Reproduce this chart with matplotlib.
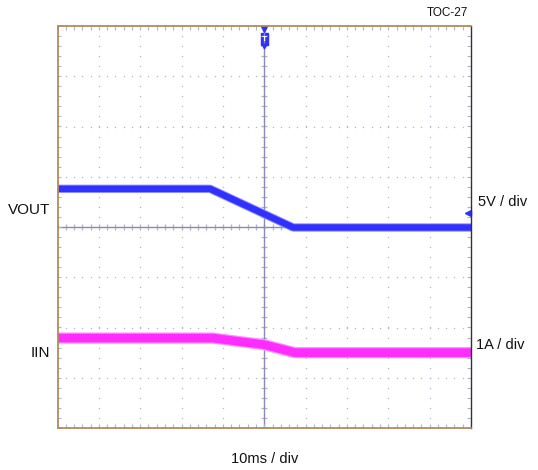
import matplotlib

matplotlib.use("Agg")
import matplotlib.pyplot as plt
import numpy as np

# Scope capture, 10 ms/div, 10 x 8 divisions. Vertical values in divisions
# from the screen centre line.
vout_t = [0.0, 36.9, 57.0, 100.0]          # ms
vout_div = [0.76, 0.76, -0.01, -0.01]      # div (5 V / div)
iin_t = [0.0, 37.6, 44.1, 49.9, 57.4, 100.0]
iin_div = [-2.21, -2.21, -2.28, -2.34, -2.50, -2.50]  # div (1 A / div)

W, H, DPI = 538, 470, 100
BLUE, BLUE_LT = "#3030ff", "#8c8cff"
MAG, MAG_LT = "#ff2cff", "#ff8cff"
GRID = "#b4b4cc"
AXIS = "#8a8ab4"
FRAME = "#b08a5e"

plt.rcParams["font.family"] = ["Liberation Sans", "DejaVu Sans"]

fig = plt.figure(figsize=(W / DPI, H / DPI), dpi=DPI)
ax = fig.add_axes([57.5 / W, 1 - 428 / H, 413.5 / W, 402 / H])
ax.set_xlim(0, 100)
ax.set_ylim(-4, 4)
ax.set_xticks([])
ax.set_yticks([])
for side in ("top", "left", "bottom"):
    ax.spines[side].set_color(FRAME)
    ax.spines[side].set_linewidth(1.3)
ax.spines["right"].set_color("#333333")
ax.spines["right"].set_linewidth(1.0)

# dotted graticule: dots every 0.2 div along each division line
xs_minor = np.arange(0, 100.01, 2)
ys_minor = np.arange(-4, 4.01, 0.2)
for x in range(10, 100, 10):
    if x == 50:
        continue
    ax.plot([x] * len(ys_minor), ys_minor, ls="none", marker="s", ms=0.9,
            color=GRID, mew=0)
for y in range(-3, 4):
    if y == 0:
        continue
    ax.plot(xs_minor, [y] * len(xs_minor), ls="none", marker="s", ms=0.9,
            color=GRID, mew=0)

# centre cross with minor ticks
ax.plot([50] * len(ys_minor), ys_minor, ls="none", marker="_", ms=4,
        color=GRID, mew=0.9)
ax.plot(xs_minor, [0] * len(xs_minor), ls="none", marker="|", ms=4,
        color=GRID, mew=0.9)
ax.axvline(50, color=AXIS, lw=1.0)
ax.axhline(0, color=AXIS, lw=1.0)
# border ticks
ax.plot(xs_minor, [3.97] * len(xs_minor), ls="none", marker="|", ms=2.5,
        color=GRID, mew=0.8)
ax.plot(xs_minor, [-3.97] * len(xs_minor), ls="none", marker="|", ms=2.5,
        color=GRID, mew=0.8)
ax.plot([0.4] * len(ys_minor), ys_minor, ls="none", marker="_", ms=2.5,
        color=GRID, mew=0.8)
ax.plot([99.6] * len(ys_minor), ys_minor, ls="none", marker="_", ms=2.5,
        color=GRID, mew=0.8)

# traces
ax.plot(vout_t, vout_div, color=BLUE_LT, lw=6.0, solid_capstyle="butt")
ax.plot(vout_t, vout_div, color=BLUE, lw=4.6, solid_capstyle="butt")
ax.plot(iin_t, iin_div, color=MAG_LT, lw=8.0, solid_capstyle="butt")
ax.plot(iin_t, iin_div, color=MAG, lw=6.2, solid_capstyle="butt")

# trigger marker at top and channel reference marker at right
ax.plot([50], [3.95], marker="v", ms=5, color=BLUE, clip_on=False)
ax.add_patch(plt.Rectangle((49.1, 3.62), 1.8, 0.24, color=BLUE, clip_on=False))
ax.plot([50], [3.60], marker="v", ms=3.5, color=BLUE, clip_on=False)
ax.text(50, 3.735, "T", color="white", fontsize=6, ha="center", va="center",
        fontweight="bold")
ax.plot([99.3], [0.28], marker="<", ms=4.5, color=BLUE, clip_on=False)
ax.plot([99.3, 100], [0.28, 0.28], color=BLUE, lw=1.0, clip_on=False)

# labels
def fig_text(x, y, s, size, ha):
    fig.text(x / W, 1 - y / H, s, fontsize=size, ha=ha, va="center",
             color="#111111")

fig_text(50, 210, "VOUT", 11, "right")
fig_text(50, 353, "IIN", 11, "right")
fig_text(478, 202, "5V / div", 10.5, "left")
fig_text(476, 345, "1A / div", 10.5, "left")
fig_text(265, 459, "10ms / div", 10.5, "center")
fig_text(468, 13, "TOC-27", 8.5, "right")

fig.savefig("out.png", dpi=DPI)
